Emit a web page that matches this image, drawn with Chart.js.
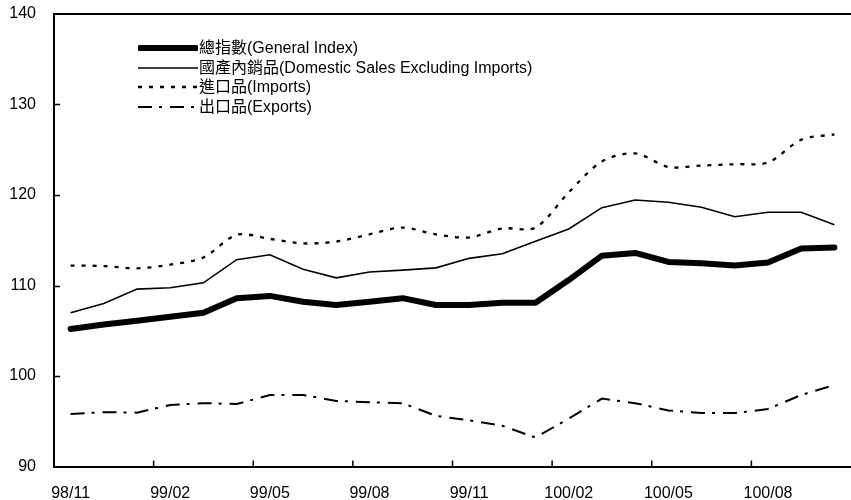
<!DOCTYPE html>
<html>
<head>
<meta charset="utf-8">
<script src="https://cdn.jsdelivr.net/npm/chart.js@4.4.0/dist/chart.umd.min.js"></script>
<style>
  html, body { margin: 0; padding: 0; background: #fff; }
  #wrap { position: relative; width: 851px; height: 500px; }
  #legend {
    position: absolute; left: 138px; top: 38px;
    font-family: "Liberation Sans", Arial, "Noto Sans CJK TC", sans-serif;
    font-size: 16px; color: #000; line-height: 19.7px;
  }
  #legend .row { display: flex; align-items: center; white-space: nowrap; }
  #legend svg { width: 60px; height: 12px; margin-right: 1px; }
</style>
</head>
<body>
<div id="wrap">
  <canvas id="c" width="851" height="500"></canvas>
  <div id="legend"></div>
</div>
<script>
// ── DATA ──────────────────────────────────────────────────────
const months = [
  '98/11','98/12',
  '99/01','99/02','99/03','99/04','99/05','99/06','99/07','99/08','99/09','99/10','99/11','99/12',
  '100/01','100/02','100/03','100/04','100/05','100/06','100/07','100/08','100/09','100/10'
];
const generalIndex = [105.2,105.7,106.1,106.55,107.0,108.6,108.85,108.2,107.85,108.2,108.6,107.85,
                      107.85,108.1,108.1,110.6,113.3,113.6,112.6,112.45,112.2,112.55,114.1,114.2];
const domestic     = [107.0,108.0,109.6,109.75,110.3,112.85,113.4,111.8,110.85,111.5,111.7,111.95,
                      113.0,113.5,114.9,116.25,118.6,119.45,119.2,118.65,117.6,118.1,118.1,116.7];
const imports      = [112.2,112.15,111.9,112.3,113.1,115.6,115.15,114.65,114.85,115.65,116.4,115.65,
                      115.3,116.3,116.4,120.3,123.7,124.6,123.1,123.25,123.4,123.6,126.1,126.7];
const exports      = [95.8,96.0,95.95,96.8,97.0,96.9,97.9,97.9,97.25,97.1,97.0,95.6,
                      95.1,94.5,93.2,95.3,97.5,97.0,96.2,95.9,95.9,96.35,97.9,99.0];
const seriesNames  = ['總指數(General Index)', '國產內銷品(Domestic Sales Excluding Imports)',
                      '進口品(Imports)', '出口品(Exports)'];
const labelEvery = 3;

const font = { family: '"Liberation Sans", Arial, sans-serif', size: 16 };

// inside tick marks + top frame line
const frame = {
  id: 'frame',
  afterDraw(chart) {
    const { ctx, chartArea: a, scales: { x, y } } = chart;
    ctx.save();
    ctx.strokeStyle = '#000';
    ctx.lineWidth = 2;
    ctx.beginPath();
    ctx.moveTo(a.left - 1, a.top); ctx.lineTo(a.right, a.top);
    ctx.stroke();
    ctx.lineWidth = 1.5;
    ctx.beginPath();
    y.ticks.forEach(t => {
      const py = Math.round(y.getPixelForValue(t.value)) + 0.5;
      if (t.value > y.min && t.value < y.max) { ctx.moveTo(a.left, py); ctx.lineTo(a.left + 6, py); }
    });
    for (let i = labelEvery; i < months.length; i += labelEvery) {
      const px = (x.getPixelForValue(i - 1) + x.getPixelForValue(i)) / 2;
      ctx.moveTo(px, a.bottom); ctx.lineTo(px, a.bottom - 6);
    }
    ctx.stroke();
    ctx.restore();
  }
};

const common = { fill: false, pointRadius: 0, borderColor: '#000', backgroundColor: '#000', tension: 0 };

new Chart(document.getElementById('c'), {
  type: 'line',
  data: {
    labels: months,
    datasets: [
      { ...common, label: seriesNames[0], data: generalIndex, borderWidth: 6,
        borderCapStyle: 'round', borderJoinStyle: 'round' },
      { ...common, label: seriesNames[1], data: domestic, borderWidth: 1.6 },
      { ...common, label: seriesNames[2], data: imports, borderWidth: 2.3, borderDash: [4, 7], tension: 0.3 },
      { ...common, label: seriesNames[3], data: exports, borderWidth: 2, borderDash: [14, 7, 3, 8] }
    ]
  },
  options: {
    responsive: false,
    animation: false,
    layout: { padding: { top: 14, right: 0, left: 0, bottom: 0 } },
    plugins: { legend: { display: false }, tooltip: { enabled: false } },
    scales: {
      x: {
        offset: true,
        grid: { display: false, offset: true },
        border: { color: '#000', width: 2 },
        ticks: {
          color: '#000', font, padding: 9, autoSkip: false, maxRotation: 0,
          callback: (v, i) => i % labelEvery === 0 ? months[i] : ''
        },
        afterFit: s => { s.height = 33.5; s.paddingLeft = 0; s.paddingRight = 0; }
      },
      y: {
        min: 90, max: 140,
        grid: { display: false },
        border: { color: '#000', width: 2 },
        ticks: { color: '#000', font, stepSize: 10, padding: 10 },
        afterFit: s => { s.width = 54; s.paddingTop = 0; s.paddingBottom = 0; }
      }
    }
  },
  plugins: [frame]
});

// ── HTML LEGEND ───────────────────────────────────────────────
const samples = [
  '<line x1="2" y1="6" x2="58" y2="6" stroke="#000" stroke-width="6" stroke-linecap="round"/>',
  '<line x1="0" y1="6" x2="60" y2="6" stroke="#000" stroke-width="1.6"/>',
  '<line x1="0" y1="6" x2="60" y2="6" stroke="#000" stroke-width="2.3" stroke-dasharray="4 7"/>',
  '<line x1="0" y1="6" x2="60" y2="6" stroke="#000" stroke-width="2" stroke-dasharray="14 7 3 8"/>'
];
document.getElementById('legend').innerHTML = seriesNames.map((n, i) =>
  '<div class="row"><svg viewBox="0 0 60 12">' + samples[i] + '</svg><span>' + n + '</span></div>'
).join('');
</script>
</body>
</html>
